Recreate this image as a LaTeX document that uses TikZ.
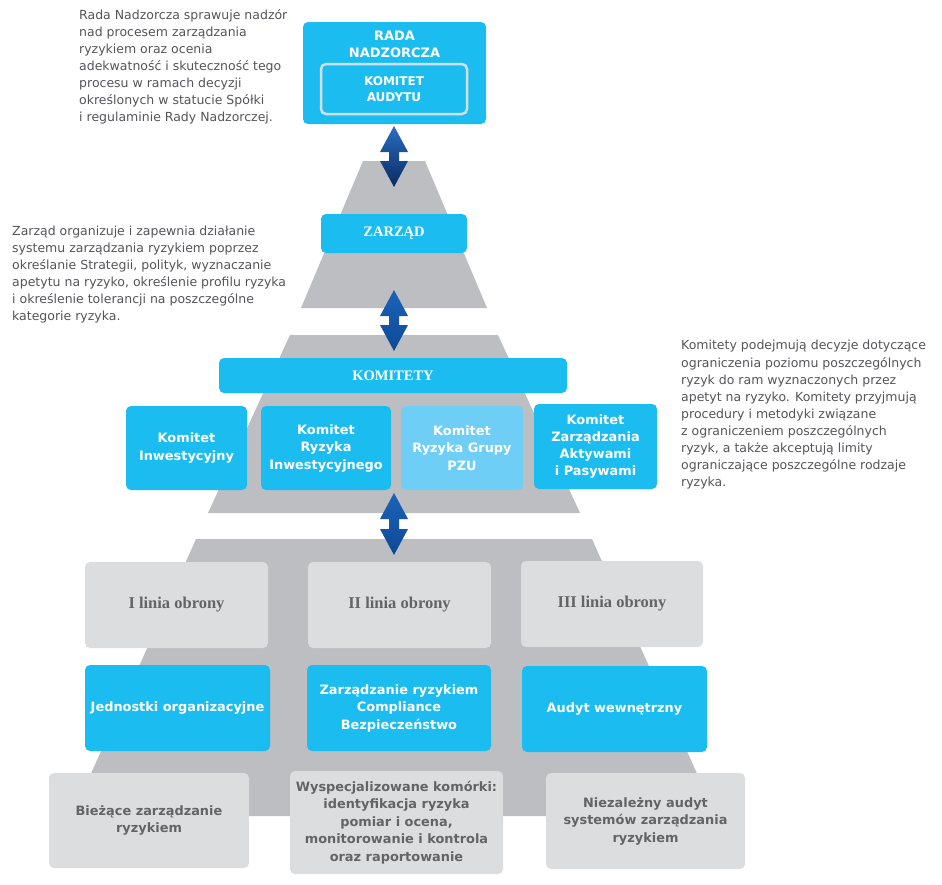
\documentclass[tikz,border=0pt]{standalone}
\usepackage{fontspec}
\setmainfont{DejaVu Sans}
\newfontfamily\tnr{Liberation Serif}
\definecolor{cyanbox}{RGB}{27,189,240}
\definecolor{cyanlight}{RGB}{110,206,245}
\definecolor{pyr}{RGB}{189,190,194}
\definecolor{greybox}{RGB}{220,221,223}
\definecolor{greytxt}{RGB}{100,100,104}
\definecolor{bodytxt}{RGB}{85,85,90}
\definecolor{audbrd}{RGB}{210,222,235}
\definecolor{arrtop}{RGB}{42,110,190}
\definecolor{arrbot}{RGB}{10,42,100}
\definecolor{arrtopb}{RGB}{28,100,185}
\definecolor{arrbotb}{RGB}{14,72,150}
\newcommand\dblarrow[3]{%
  \shade[#3] (#1) -- ++(14,26) -- ++(-9,0) -- ++(0,#2-52) -- ++(9,0) -- ++(-14,26)
    -- ++(-14,-26) -- ++(9,0) -- ++(0,52-#2) -- ++(-9,0) -- cycle;}
\begin{document}
\begin{tikzpicture}[x=1pt,y=-1pt,
  box/.style={rounded corners=5pt, inner sep=0pt, align=center,
    font=\fontsize{12.9}{17.5}\selectfont\bfseries},
  cbox/.style={box, fill=cyanbox, text=white},
  gbox/.style={box, fill=greybox, text=greytxt},
  lbox/.style={box, fill=greybox, text=greytxt, font=\tnr\fontsize{16.5}{18}\selectfont\bfseries},
  body/.style={inner sep=0pt, anchor=base west, align=left, text=bodytxt,
    font=\fontsize{12.5}{17.1}\selectfont},
]
\useasboundingbox (0,0) rectangle (942,884);
\fill[white] (0,0) rectangle (942,884);
% pyramid
\fill[pyr] (363,161) -- (425,161) -- (487,308) -- (301,308) -- cycle;
\fill[pyr] (290,335) -- (498,335) -- (580,513) -- (208,513) -- cycle;
\fill[pyr] (196,539) -- (592,539) -- (716,816) -- (72,816) -- cycle;
% top
\node[cbox, minimum width=183pt, minimum height=102pt] (rada) at (394.5,73) {};
\node[inner sep=0pt, align=center, text=white, font=\fontsize{13}{17}\selectfont\bfseries] (radat) at (394.5,44.5) {RADA\\NADZORCZA};
\node[cbox, draw=audbrd, line width=2.5pt, minimum width=146pt, minimum height=50pt,
  font=\fontsize{12}{16}\selectfont\bfseries] (audyt) at (394,89) {KOMITET\\AUDYTU};
% zarzad
\node[cbox, minimum width=146pt, minimum height=39pt, font=\tnr\fontsize{14.5}{16}\selectfont\bfseries] (zarzad) at (394,233.5) {ZARZĄD};
% komitety
\node[cbox, minimum width=348pt, minimum height=35pt, font=\tnr\fontsize{14.5}{16}\selectfont\bfseries] (komitety) at (393,375.5) {KOMITETY};
\node[cbox, minimum width=121pt, minimum height=84pt] (k1) at (186.5,448) {Komitet\\Inwestycyjny};
\node[cbox, minimum width=130pt, minimum height=84pt] (k2) at (326,448) {Komitet\\Ryzyka\\Inwestycyjnego};
\node[cbox, fill=cyanlight, minimum width=122pt, minimum height=84pt] (k3) at (462,448) {Komitet\\Ryzyka Grupy\\PZU};
\node[cbox, minimum width=123pt, minimum height=85pt, font=\fontsize{12.9}{17}\selectfont\bfseries] (k4) at (595.5,446.5) {Komitet\\Zarządzania\\Aktywami\\i Pasywami};
% linie obrony
\node[lbox, minimum width=183pt, minimum height=86pt] (l1) at (176.5,605) {I linia obrony};
\node[lbox, minimum width=183pt, minimum height=86pt] (l2) at (399.5,605) {II linia obrony};
\node[lbox, minimum width=182pt, minimum height=86pt] (l3) at (612,604) {III linia obrony};
% blue row
\node[cbox, minimum width=185pt, minimum height=86pt] (b1) at (177.5,708) {Jednostki organizacyjne};
\node[cbox, minimum width=184pt, minimum height=86pt] (b2) at (399,708) {Zarządzanie ryzykiem\\Compliance\\Bezpieczeństwo};
\node[cbox, minimum width=185pt, minimum height=86pt] (b3) at (614.5,709) {Audyt wewnętrzny};
% bottom grey
\node[gbox, minimum width=200pt, minimum height=95pt] (g1) at (149,820.5) {Bieżące zarządzanie\\ryzykiem};
\node[gbox, minimum width=213pt, minimum height=103pt] (g2) at (396.5,822.5) {Wyspecjalizowane komórki:\\identyfikacja ryzyka\\pomiar i ocena,\\monitorowanie i kontrola\\oraz raportowanie};
\node[gbox, minimum width=199pt, minimum height=96pt] (g3) at (645.5,821) {Niezależny audyt\\systemów zarządzania\\ryzykiem};
% arrows
\coordinate (a1) at (394,126);
\coordinate (a2) at (394,290);
\coordinate (a3) at (394,493);
\dblarrow{a1}{61}{top color=arrtop, bottom color=arrbot}
\dblarrow{a2}{61}{top color=arrtopb, bottom color=arrbotb}
\dblarrow{a3}{62}{top color=arrtopb, bottom color=arrbotb}
% texts (anchored at the baseline of their last line)
\node[body] (t1) at (79,121.7) {Rada Nadzorcza sprawuje nadzór\\nad procesem zarządzania\\ryzykiem oraz ocenia\\adekwatność i skuteczność tego\\procesu w ramach decyzji\\określonych w statucie Spółki\\i regulaminie Rady Nadzorczej.};
\node[body] (t2) at (12,320.7) {Zarząd organizuje i zapewnia działanie\\systemu zarządzania ryzykiem poprzez\\określanie Strategii, polityk, wyznaczanie\\apetytu na ryzyko, określenie profilu ryzyka\\i określenie tolerancji na poszczególne\\kategorie ryzyka.};
\node[body] (t3) at (681,486.7) {Komitety podejmują decyzje dotyczące\\ograniczenia poziomu poszczególnych\\ryzyk do ram wyznaczonych przez\\apetyt na ryzyko. Komitety przyjmują\\procedury i metodyki związane\\z ograniczeniem poszczególnych\\ryzyk, a także akceptują limity\\ograniczające poszczególne rodzaje\\ryzyka.};
\end{tikzpicture}
\end{document}
